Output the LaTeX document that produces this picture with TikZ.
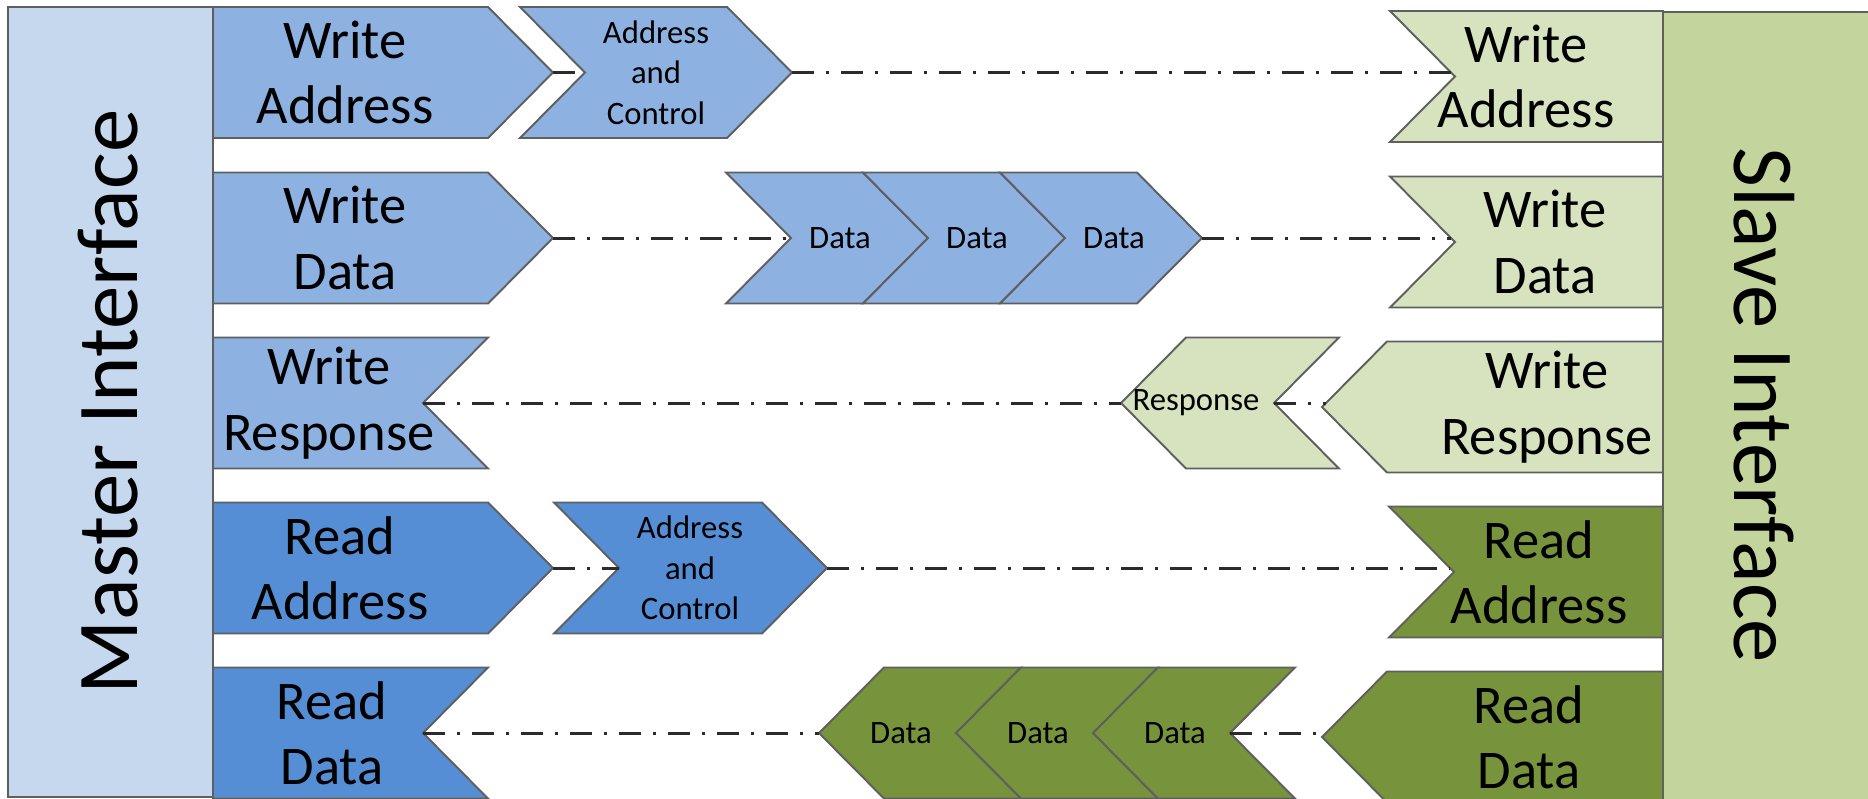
\documentclass[tikz,border=0pt]{standalone}
\usepackage{fontspec}
\setmainfont{Carlito}
\definecolor{ink}{HTML}{000000}
\definecolor{ink2}{HTML}{2B2B2B}
\definecolor{edge}{HTML}{5F5F5F}
\definecolor{mfill}{HTML}{C6D8EE}
\definecolor{sfill}{HTML}{C3D59D}
\definecolor{wblue}{HTML}{8DB2E2}
\definecolor{rblue}{HTML}{558ED5}
\definecolor{wgreen}{HTML}{D7E3BF}
\definecolor{rgreen}{HTML}{77933C}

\begin{document}
\begin{tikzpicture}[
    x=0.1mm, y=-0.1mm, text=ink,
    shp/.style={draw=#1, line width=0.55pt, line join=miter},
    mbox/.style={shp=edge, fill=mfill},
    sbox/.style={shp=edge, fill=sfill},
    wmbox/.style={shp=edge, fill=wblue},
    rmbox/.style={shp=edge, fill=rblue},
    wsbox/.style={shp=edge, fill=wgreen},
    rsbox/.style={shp=edge, fill=rgreen},
    lbl/.style={font=\fontsize{15.5}{18.6}\selectfont, align=center},
    slbl/.style={font=\fontsize{9.3}{11.5}\selectfont, align=center},
    side/.style={font=\fontsize{24.7}{30}\selectfont},
    chan/.style={draw=ink2, line width=0.85pt,
                 dash pattern=on 2.2mm off 1.2mm on 0.3mm off 1.2mm},
  ]
  \useasboundingbox (0,0) rectangle (1868,798);
  \clip (0,0) rectangle (1868,798);

  % ---- the two interfaces
  \draw[mbox] (8,7) rectangle (213,797);
  \draw[sbox] (1663,12) rectangle (1880,810);
  \node[side, rotate=90] (master) at (108,402) {Master Interface};
  \node[side, rotate=-90] (slave) at (1764,405) {Slave Interface};

  % ---- write address channel
  \draw[wmbox] (213,7) -- (488,7) -- (553,72.5) -- (488,138) -- (213,138) -- cycle;
  \node[lbl] (mwa) at (345,72.5) {Write\\Address};
  \draw[wmbox] (520,7) -- (727,7) -- (792,72.5) -- (727,138) -- (520,138) -- (585,72.5) -- cycle;
  \node[slbl] (wac) at (656,72.5) {Address\\and\\Control};
  \draw[wsbox] (1390,11) -- (1663,11) -- (1663,142) -- (1390,142) -- (1455,76.5) -- cycle;
  \node[lbl] (swa) at (1526,76.5) {Write\\Address};
  \coordinate (wa-m) at (553,72.5);
  \coordinate (wa-cin) at (585,72.5);
  \coordinate (wa-cout) at (792,72.5);
  \coordinate (wa-s) at (1451,72.5);
  \draw[chan] (wa-m) -- (wa-cin);
  \draw[chan] (wa-cout) -- (wa-s);

  % ---- write data channel
  \draw[wmbox] (213,172.5) -- (488,172.5) -- (553,238) -- (488,303.5) -- (213,303.5) -- cycle;
  \node[lbl] (mwd) at (345,238) {Write\\Data};
  \foreach \x [count=\i] in {726,863,1000} {
    \draw[wmbox] (\x,172.5) -- ++(137,0) -- ++(65,65.5) -- ++(-65,65.5) -- ++(-137,0) -- ++(65,-65.5) -- cycle;
    \node[slbl] (wd\i) at (\x+114,238) {Data};
  }
  \draw[wsbox] (1390,176.5) -- (1663,176.5) -- (1663,307.5) -- (1390,307.5) -- (1455,242) -- cycle;
  \node[lbl] (swd) at (1545,242) {Write\\Data};
  \coordinate (wd-m) at (553,238);
  \coordinate (wd-cin) at (791,238);
  \coordinate (wd-cout) at (1202,238);
  \coordinate (wd-s) at (1451,238);
  \draw[chan] (wd-m) -- (wd-cin);
  \draw[chan] (wd-cout) -- (wd-s);

  % ---- write response channel, slave to master
  \draw[wmbox] (213,337.5) -- (488,337.5) -- (423,403) -- (488,468.5) -- (213,468.5) -- cycle;
  \node[lbl] (mwr) at (329,403) {Write\\Response};
  \draw[wsbox] (1121,403) -- (1186,337.5) -- (1339,337.5) -- (1274,403) -- (1339,468.5) -- (1186,468.5) -- cycle;
  \node[slbl] (resp) at (1196,403) {Response};
  \draw[wsbox] (1322,407) -- (1387,341.5) -- (1663,341.5) -- (1663,472.5) -- (1387,472.5) -- cycle;
  \node[lbl] (swr) at (1547,407) {Write\\Response};
  \coordinate (wr-m) at (423,403);
  \coordinate (wr-cin) at (1121,403);
  \coordinate (wr-cout) at (1274,403);
  \coordinate (wr-s) at (1326,403);
  \draw[chan] (wr-m) -- (wr-cin);
  \draw[chan] (wr-cout) -- (wr-s);

  % ---- read address channel
  \draw[rmbox] (213,502.5) -- (488,502.5) -- (553,568) -- (488,633.5) -- (213,633.5) -- cycle;
  \node[lbl] (mra) at (340,568) {Read\\Address};
  \draw[rmbox] (554,502.5) -- (762,502.5) -- (827,568) -- (762,633.5) -- (554,633.5) -- (619,568) -- cycle;
  \node[slbl] (rac) at (690,568) {Address\\and\\Control};
  \draw[rsbox] (1389,506.5) -- (1663,506.5) -- (1663,637.5) -- (1389,637.5) -- (1454,572) -- cycle;
  \node[lbl] (sra) at (1539,572) {Read\\Address};
  \coordinate (ra-m) at (553,568);
  \coordinate (ra-cin) at (619,568);
  \coordinate (ra-cout) at (827,568);
  \coordinate (ra-s) at (1450,568);
  \draw[chan] (ra-m) -- (ra-cin);
  \draw[chan] (ra-cout) -- (ra-s);

  % ---- read data channel, slave to master
  \draw[rmbox] (213,667.5) -- (488,667.5) -- (423,733) -- (488,798.5) -- (213,798.5) -- cycle;
  \node[lbl] (mrd) at (332,733) {Read\\Data};
  \foreach \x [count=\i] in {819,956,1093} {
    \draw[rsbox] (\x,733) -- ++(65,-65.5) -- ++(137,0) -- ++(-65,65.5) -- ++(65,65.5) -- ++(-137,0) -- cycle;
    \node[slbl] (rd\i) at (\x+82,733) {Data};
  }
  \draw[rsbox] (1322,737) -- (1387,671.5) -- (1663,671.5) -- (1663,802.5) -- (1387,802.5) -- cycle;
  \node[lbl] (srd) at (1529,737) {Read\\Data};
  \coordinate (rd-m) at (423,733);
  \coordinate (rd-cin) at (819,733);
  \coordinate (rd-cout) at (1230,733);
  \coordinate (rd-s) at (1326,733);
  \draw[chan] (rd-m) -- (rd-cin);
  \draw[chan] (rd-cout) -- (rd-s);
\end{tikzpicture}
\end{document}
